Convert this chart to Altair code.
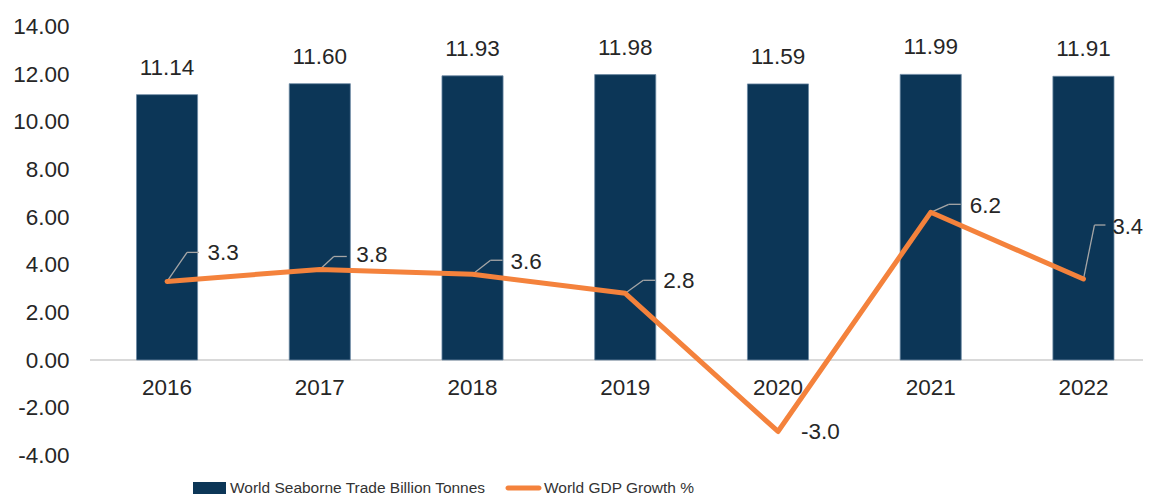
import altair as alt
import pandas as pd

years = ["2016", "2017", "2018", "2019", "2020", "2021", "2022"]
trade = [11.14, 11.60, 11.93, 11.98, 11.59, 11.99, 11.91]
gdp = [3.3, 3.8, 3.6, 2.8, -3.0, 6.2, 3.4]
y_ticks = [-4, -2, 0, 2, 4, 6, 8, 10, 12, 14]

trade_name = "World Seaborne Trade Billion Tonnes"
gdp_name = "World GDP Growth %"

NAVY = "#0C3657"
ORANGE = "#F4823C"
TEXT = "#262626"
FONT = "Liberation Sans"
FS = 22.5

W, H = 1053, 428.8

df = pd.DataFrame({"year": years, "trade": trade, "gdp": gdp, "series": trade_name})

base = alt.Chart(df).transform_calculate(
    gdp_label="replace(format(datum.gdp, '.1f'), '\u2212', '-')"
)

xscale = alt.Scale(range=[46.5, 1024], paddingInner=0.6, paddingOuter=0)
xaxis = alt.Axis(
    title=None, orient="bottom", offset=-95.3, domain=False, ticks=False, grid=False,
    labelPadding=17, labelFont=FONT, labelFontSize=FS, labelColor=TEXT, labelAngle=0,
)
yscale = alt.Scale(domain=[-4, 14], nice=False, zero=False)

shape_expr = (
    "datum.value === '" + gdp_name + "' ? "
    "'M-0.94,-0.15H0.94A0.15,0.15 0 0 1 0.94,0.15H-0.94A0.15,0.15 0 0 1 -0.94,-0.15Z' : "
    "'M-1,-0.36H1V0.36H-1Z'"
)

bars = base.mark_bar(stroke="#6C89A3", strokeWidth=0.8).encode(
    x=alt.X("year:N", scale=xscale, axis=xaxis),
    y=alt.Y(
        "trade:Q", scale=yscale,
        axis=alt.Axis(
            title=None, values=y_ticks, grid=False, domain=False, ticks=False,
            labelExpr="replace(format(datum.value, '.2f'), '\u2212', '-')",
            labelPadding=21, labelFont=FONT, labelFontSize=FS, labelColor=TEXT,
        ),
    ),
    color=alt.Color(
        "series:N",
        scale=alt.Scale(domain=[trade_name, gdp_name], range=[NAVY, ORANGE]),
        legend=alt.Legend(
            title=None, orient="none", legendX=103, legendY=445, direction="horizontal",
            symbolSize=1089, symbolStrokeWidth=0, labelOffset=4, columnPadding=19,
            labelFont=FONT, labelFontSize=15.5,
            labelColor="#333333", padding=0, labelLimit=400,
            symbolType={"expr": shape_expr},
        ),
    ),
)

zero = base.mark_rule(color="#D9D9D9", strokeWidth=2).encode(
    y=alt.datum(0, scale=yscale), x=alt.value(0), x2=alt.value(W)
)

bar_labels = base.mark_text(
    baseline="bottom", dy=-15, font=FONT, fontSize=FS, color=TEXT
).encode(
    x=alt.X("year:N", bandPosition=0.5),
    y=alt.Y("trade:Q", scale=yscale),
    text=alt.Text("trade:Q", format=".2f"),
)

line = base.mark_line(color=ORANGE, strokeWidth=5, strokeCap="round", strokeJoin="round").encode(
    x=alt.X("year:N", bandPosition=0.5),
    y=alt.Y("gdp:Q", scale=yscale),
)

# label placement for each GDP value: text dx, text dy, elbow dx, elbow dy, leader end dx, font size
label_layout = {
    "2016": (40.5, -28, 20, -29, 32, FS),
    "2017": (36.5, -14, 14, -13, 27, FS),
    "2018": (38, -12, 18, -14, 30, FS),
    "2019": (38, -12, 18, -13, 30, FS),
    "2020": (23, 1, None, None, None, FS),
    "2021": (39, -6, 18, -8, 30, FS),
    "2022": (29, -52, 11, -54, 22, 22),
}

leaders = []
gdp_labels = []
for yr, (tdx, tdy, ex, ey, endx, fs) in label_layout.items():
    sub = base.transform_filter(alt.datum.year == yr)
    if ex is not None:
        leaders.append(
            sub.mark_rule(color="#A6A6A6", strokeWidth=1.3, xOffset=0, yOffset=0,
                          x2Offset=ex, y2Offset=ey).encode(
                x=alt.X("year:N", bandPosition=0.5), x2="year:N",
                y=alt.Y("gdp:Q", scale=yscale), y2="gdp:Q",
            )
        )
        leaders.append(
            sub.mark_rule(color="#A6A6A6", strokeWidth=1.3, xOffset=ex, yOffset=ey,
                          x2Offset=endx, y2Offset=ey).encode(
                x=alt.X("year:N", bandPosition=0.5), x2="year:N",
                y=alt.Y("gdp:Q", scale=yscale), y2="gdp:Q",
            )
        )
    gdp_labels.append(
        sub.mark_text(align="left", baseline="middle", dx=tdx, dy=tdy,
                      font=FONT, fontSize=fs, color=TEXT).encode(
            x=alt.X("year:N", bandPosition=0.5),
            y=alt.Y("gdp:Q", scale=yscale),
            text="gdp_label:N",
        )
    )

chart = alt.layer(zero, bars, bar_labels, *leaders, line, *gdp_labels).properties(
    width=W, height=H,
    background="white",
    autosize=alt.AutoSizeParams(type="none"),
    padding={"left": 82, "top": 18.5, "right": 0, "bottom": 40},
).configure_view(strokeWidth=0)

chart.save("out.html", embed_options={"renderer": "svg", "actions": False})
